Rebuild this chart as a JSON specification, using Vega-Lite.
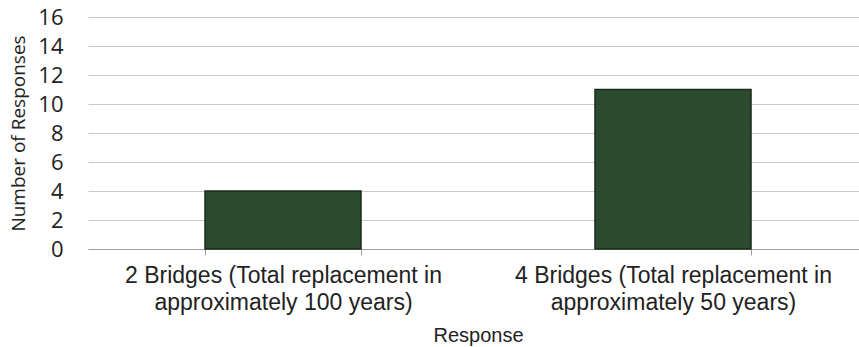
{
  "$schema": "https://vega.github.io/schema/vega-lite/v6.json",
  "width": 780,
  "height": 232,
  "autosize": "none",
  "padding": {"left": 88, "top": 17, "right": 0, "bottom": 98},
  "background": "white",
  "data": {"values": [
    {"Response": "2 Bridges (Total replacement in approximately 100 years)", "Count": 4},
    {"Response": "4 Bridges (Total replacement in approximately 50 years)", "Count": 11}
  ]},
  "mark": {"type": "bar", "color": "#2c4a2d", "stroke": "#1b2a1b", "strokeWidth": 1.5},
  "encoding": {
    "x": {
      "field": "Response", "type": "nominal", "sort": null,
      "scale": {"paddingInner": 0.6, "paddingOuter": 0.3},
      "axis": {
        "title": "Response", "labelAngle": 0, "tickBand": "extent",
        "labelExpr": "split(replace(datum.label, ' in ', ' in|'), '|')",
        "labelFontSize": 23, "labelLineHeight": 27, "labelPadding": 9,
        "labelFont": "Liberation Sans", "labelColor": "#222222",
        "domainColor": "#a0a0a0", "tickColor": "#a0a0a0", "tickSize": 6,
        "titleFont": "Liberation Sans", "titleFontSize": 20, "titleFontWeight": "normal",
        "titleColor": "#222222", "titlePadding": 11, "labelLimit": 0
      }
    },
    "y": {
      "field": "Count", "type": "quantitative",
      "scale": {"domain": [0, 16]},
      "axis": {
        "title": "Number of Responses", "values": [0,2,4,6,8,10,12,14,16],
        "domain": false, "ticks": false, "labelPadding": 25,
        "labelFontSize": 22, "labelFont": "Open Sans", "labelColor": "#222222",
        "gridColor": "#c8c8c8", "gridWidth": 1,
        "titleFont": "Open Sans", "titleFontSize": 19, "titleFontWeight": "normal",
        "titleColor": "#222222", "titleX": -60
      }
    }
  },
  "config": {"view": {"stroke": null}}
}
